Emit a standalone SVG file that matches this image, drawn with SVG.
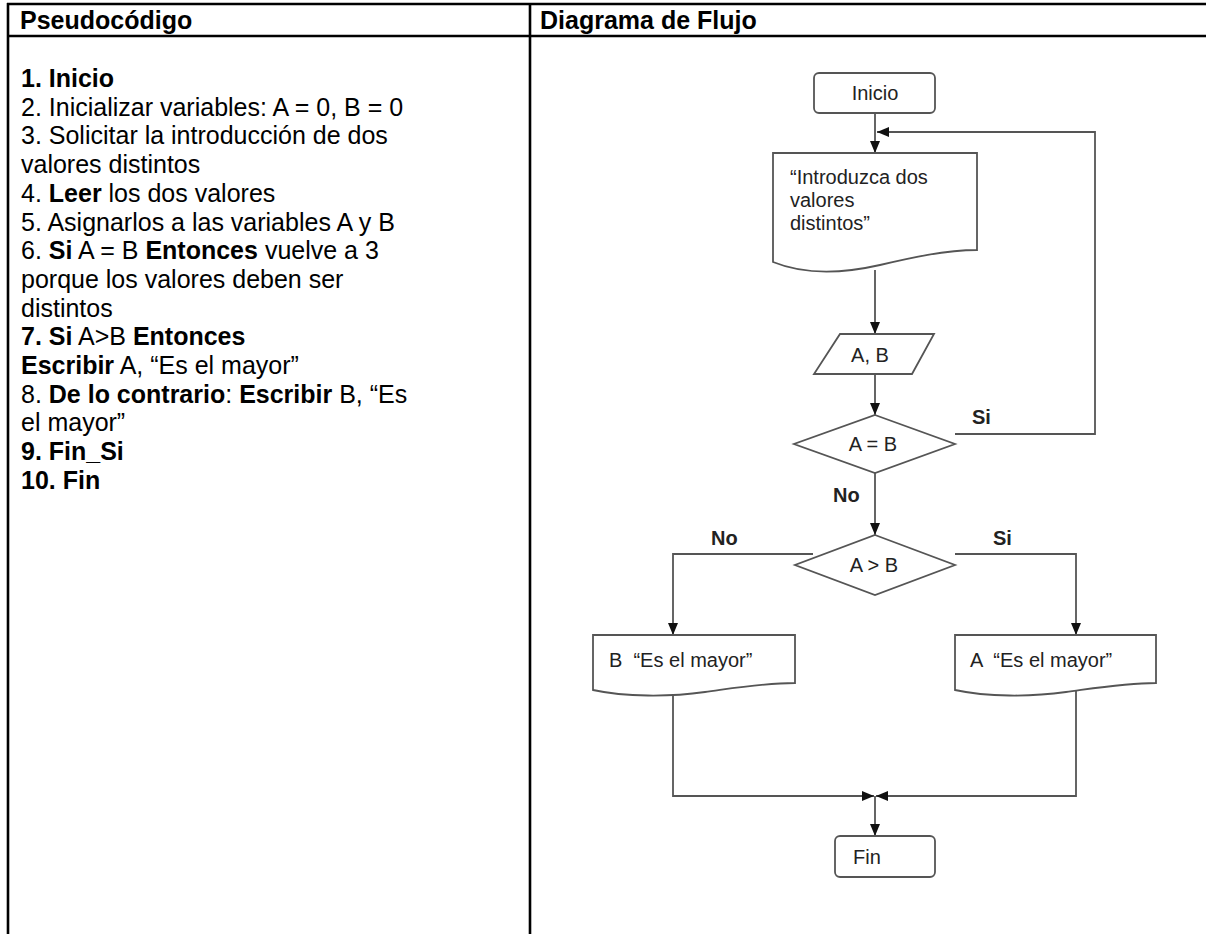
<svg xmlns="http://www.w3.org/2000/svg" width="1206" height="934" viewBox="0 0 1206 934">
<style>
.t{font-family:"Liberation Sans",Arial,sans-serif;font-size:25px;fill:#000}
.b{font-weight:bold}
.h{font-family:"Liberation Sans",Arial,sans-serif;font-size:25px;font-weight:bold;fill:#000}
.f{font-family:"Liberation Sans",Arial,sans-serif;font-size:20px;fill:#222}
.lbl{font-family:"Liberation Sans",Arial,sans-serif;font-size:20px;font-weight:bold;fill:#222}
.shape{fill:#fff;stroke:#555;stroke-width:1.8}
.conn{fill:none;stroke:#555;stroke-width:1.8}
.grid{stroke:#000;stroke-width:2.6}
</style>
<defs>
<marker id="ah" viewBox="0 0 12 10" refX="12" refY="5" markerWidth="12" markerHeight="10" markerUnits="userSpaceOnUse" orient="auto">
<path d="M0,0 L12,5 L0,10 z" fill="#111"/>
</marker>
</defs>
<rect width="1206" height="934" fill="#fff"/>
<g id="table">
<line class="grid" x1="7" y1="4" x2="1206" y2="4"/>
<line class="grid" x1="7" y1="36" x2="1206" y2="36"/>
<line class="grid" x1="8" y1="3" x2="8" y2="934"/>
<line class="grid" x1="530" y1="3" x2="530" y2="934"/>
<text class="h" x="20" y="29">Pseudocódigo</text>
<text class="h" x="540" y="29">Diagrama de Flujo</text>
</g>
<g id="pseudocode">
<text class="t" x="21" y="87"><tspan class="b">1. Inicio</tspan></text>
<text class="t" x="21" y="115.7">2. Inicializar variables: A = 0, B = 0</text>
<text class="t" x="21" y="144.4">3. Solicitar la introducción de dos</text>
<text class="t" x="21" y="173.1">valores distintos</text>
<text class="t" x="21" y="201.8">4. <tspan class="b">Leer</tspan> los dos valores</text>
<text class="t" x="21" y="230.5">5. Asignarlos a las variables A y B</text>
<text class="t" x="21" y="259.2">6. <tspan class="b">Si</tspan> A = B <tspan class="b">Entonces</tspan> vuelve a 3</text>
<text class="t" x="21" y="287.9">porque los valores deben ser</text>
<text class="t" x="21" y="316.6">distintos</text>
<text class="t" x="21" y="345.3"><tspan class="b">7. Si</tspan> A&gt;B <tspan class="b">Entonces</tspan></text>
<text class="t" x="21" y="374"><tspan class="b">Escribir</tspan> A, “Es el mayor”</text>
<text class="t" x="21" y="402.7">8. <tspan class="b">De lo contrario</tspan>: <tspan class="b">Escribir</tspan> B, “Es</text>
<text class="t" x="21" y="431.4">el mayor”</text>
<text class="t" x="21" y="460.1"><tspan class="b">9. Fin_Si</tspan></text>
<text class="t" x="21" y="488.8"><tspan class="b">10. Fin</tspan></text>
</g>
<g id="connectors">
<path class="conn" d="M875,113 V153" marker-end="url(#ah)"/>
<path class="conn" d="M955,434 H1095 V132 H877" marker-end="url(#ah)"/>
<path class="conn" d="M875,270 V334" marker-end="url(#ah)"/>
<path class="conn" d="M875,374 V415" marker-end="url(#ah)"/>
<path class="conn" d="M875,473 V535" marker-end="url(#ah)"/>
<path class="conn" d="M813,554 H673 V635" marker-end="url(#ah)"/>
<path class="conn" d="M955,554 H1076 V635" marker-end="url(#ah)"/>
<path class="conn" d="M673,694 V796 H874" marker-end="url(#ah)"/>
<path class="conn" d="M1076,690 V796 H876" marker-end="url(#ah)"/>
<path class="conn" d="M875,796 V836" marker-end="url(#ah)"/>
<text class="lbl" x="972" y="424">Si</text>
<text class="lbl" x="833" y="502">No</text>
<text class="lbl" x="711" y="545">No</text>
<text class="lbl" x="993" y="545">Si</text>
</g>
<g id="inicio">
<rect class="shape" x="814" y="73" width="121" height="40" rx="5"/>
<text class="f" x="875" y="100" text-anchor="middle">Inicio</text>
</g>
<g id="mensaje">
<path class="shape" d="M773,153 H977 V250 C945,250 910,258 880,265 C845,273 805,275 773,262 Z"/>
<text class="f" x="790" y="184">“Introduzca dos</text>
<text class="f" x="790" y="207">valores</text>
<text class="f" x="790" y="230">distintos”</text>
</g>
<g id="leer">
<path class="shape" d="M840,334 H934 L912,374 H814 Z"/>
<text class="f" x="870" y="362" text-anchor="middle">A, B</text>
</g>
<g id="igual">
<path class="shape" d="M875,415 L955,444 L875,473 L794,444 Z"/>
<text class="f" x="873" y="451" text-anchor="middle">A = B</text>
</g>
<g id="mayor">
<path class="shape" d="M875,535 L955,565 L875,595 L795,565 Z"/>
<text class="f" x="874" y="572" text-anchor="middle">A &gt; B</text>
</g>
<g id="salidaB">
<path class="shape" d="M593,635 H795 V683 C765,683 735,688 705,692 C670,697 625,697 593,690 Z"/>
<text class="f" x="609" y="667" xml:space="preserve">B  “Es el mayor”</text>
</g>
<g id="salidaA">
<path class="shape" d="M955,635 H1156 V683 C1126,683 1096,688 1066,692 C1031,697 987,697 955,690 Z"/>
<text class="f" x="970" y="667" xml:space="preserve">A  “Es el mayor”</text>
</g>
<g id="fin">
<rect class="shape" x="835" y="836" width="100" height="41" rx="5"/>
<text class="f" x="853" y="864">Fin</text>
</g>
</svg>
